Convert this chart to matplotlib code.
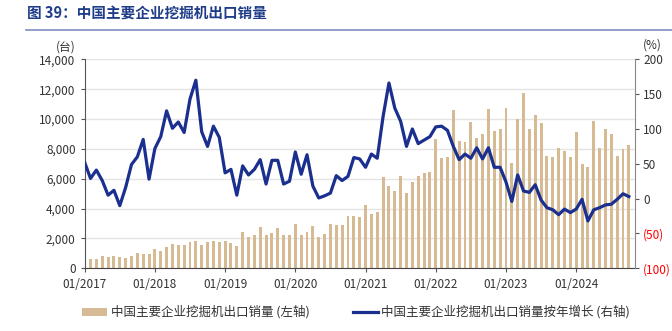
import matplotlib.pyplot as plt
from matplotlib.lines import Line2D
from matplotlib.patches import Patch
import numpy as np

plt.rcParams['font.family'] = ['Noto Sans CJK SC', 'DejaVu Sans']

# 中国主要企业挖掘机出口销量 (台), 2017-01 .. 2024-10
sales = [
    780, 650, 650, 850, 780, 830, 760, 715, 800, 1030, 940, 980,
    1320, 1180, 1430, 1650, 1580, 1580, 1760, 1830, 1540, 1740, 1810, 1760,
    1810, 1670, 1520, 2410, 2080, 2210, 2750, 2230, 2340, 2680, 2210, 2210,
    2970, 2230, 2430, 2860, 2100, 2280, 2950, 2920, 2920, 3500, 3500, 3460,
    4260, 3640, 3770, 6120, 5510, 5200, 6180, 5070, 5760, 6180, 6380, 6450,
    8640, 7370, 7480, 10580, 8550, 8480, 9780, 8710, 9020, 10690, 9220, 9310,
    10760, 7030, 10000, 11720, 9310, 10250, 9710, 7520, 7480, 8060, 7830, 7480,
    9110, 6990, 6810, 9840, 8080, 9350, 8970, 7500, 7990, 8260,
]
# 按年增长 (%)
yoy = [
    52, 29, 41, 26, 5, 12, -10, 16, 49, 60, 85, 28,
    72, 89, 126, 101, 110, 95, 143, 170, 96, 75, 104, 88,
    37, 42, 5, 47, 34, 42, 56, 21, 55, 55, 21, 25,
    67, 35, 63, 18, 1, 4, 8, 33, 26, 32, 59, 57,
    45, 64, 58, 118, 166, 130, 111, 75, 100, 79, 84, 89,
    103, 104, 98, 75, 56, 64, 58, 73, 57, 73, 45, 45,
    24, -4, 34, 11, 9, 20, -2, -13, -16, -23, -15, -20,
    -15, -1, -32, -16, -13, -9, -8, -1, 7, 3,
]
years = ['2017', '2018', '2019', '2020', '2021', '2022', '2023', '2024']

bar_color = '#D5BA94'
line_color = '#1B2F8E'
txt_color = '#333333'

x = np.arange(len(sales))

fig = plt.figure(figsize=(6.72, 3.31), dpi=100)
ax = fig.add_axes([0.126, 0.1894, 0.8185, 0.6314])
ax2 = ax.twinx()

ax.bar(x, sales, width=0.5, color=bar_color, zorder=2)
ax2.plot(x, yoy, color=line_color, lw=2.3, solid_joinstyle='round', zorder=3)

ax.set_xlim(0, 94)
ax.set_ylim(0, 14000)
ax.set_yticks(range(0, 14001, 2000))
ax.set_yticklabels([f'{v:,}' for v in range(0, 14001, 2000)])
ax.set_xticks(range(0, 94, 12))
ax.set_xticklabels(['01/' + y for y in years])
ax.grid(axis='y', color='#e4e4e4', lw=1)
ax.set_axisbelow(True)

ax2.set_ylim(-100, 200)
rt = list(range(-100, 201, 50))
ax2.set_yticks(rt)
ax2.set_yticklabels([f'({-v})' if v < 0 else str(v) for v in rt])
for lab, v in zip(ax2.get_yticklabels(), rt):
    lab.set_color('#ff0000' if v < 0 else txt_color)

for a in (ax, ax2):
    a.spines['top'].set_visible(False)
    a.tick_params(labelsize=8.5, length=3, width=0.8, color='#555555')
ax.tick_params(axis='both', colors='#555555', labelcolor=txt_color)
ax.tick_params(axis='x', pad=4)
ax2.tick_params(axis='y', pad=3)
ax.spines['left'].set_color('#555555')
ax.spines['bottom'].set_color('#444444')
ax.spines['right'].set_visible(False)
ax2.spines['left'].set_visible(False)
ax2.spines['bottom'].set_visible(False)
ax2.spines['right'].set_color('#888888')

fig.text(0.098, 0.857, '(台)', fontsize=8.5, color=txt_color, ha='center', va='center')
fig.text(0.97, 0.865, '(%)', fontsize=8.5, color=txt_color, ha='center', va='center')

# title and rule
fig.text(0.04, 0.958, '图 39：中国主要企业挖掘机出口销量', fontsize=10.5,
         fontweight='bold', color='#1f3c88', ha='left', va='center')
fig.add_artist(Line2D([0.038, 1.0], [0.91, 0.91], color='#7d8fbf', lw=1.2))

handles = [Patch(facecolor=bar_color, edgecolor='none'),
           Line2D([], [], color=line_color, lw=2.3)]
labels = ['中国主要企业挖掘机出口销量 (左轴)', '中国主要企业挖掘机出口销量按年增长 (右轴)']
fig.legend(handles, labels, loc='center', bbox_to_anchor=(0.53, 0.057), ncol=2,
           frameon=False, fontsize=9, handlelength=2.0, handleheight=0.6,
           handletextpad=0.25, columnspacing=3.5, labelcolor=txt_color)

fig.savefig('out.png', dpi=100)
